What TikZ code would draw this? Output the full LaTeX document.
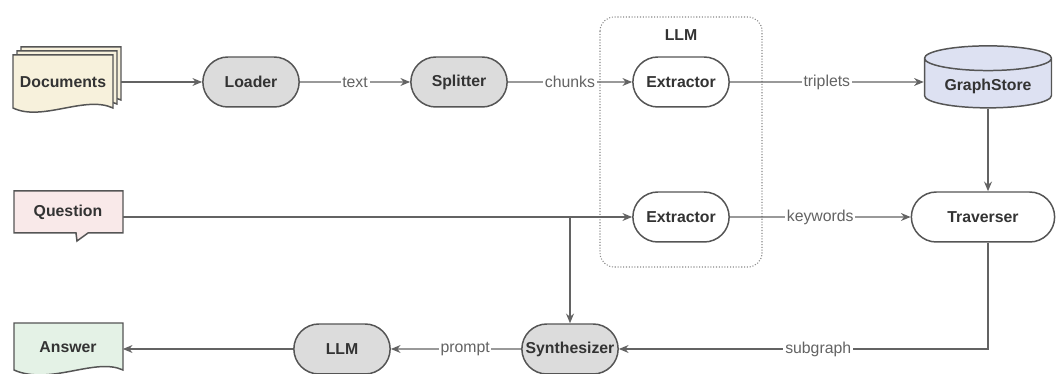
\documentclass[tikz,border=0pt]{standalone}
\usepackage{fontspec}
\setmainfont{Liberation Sans}
\usetikzlibrary{positioning,shapes.misc,shapes.geometric,arrows.meta,calc}

\definecolor{edgec}{HTML}{636363}
\definecolor{borderc}{HTML}{555555}
\definecolor{textc}{HTML}{333333}
\definecolor{grayfill}{HTML}{DCDCDC}
\definecolor{docfill}{HTML}{F7F1DC}
\definecolor{qfill}{HTML}{F9E9E9}
\definecolor{ansfill}{HTML}{E4F2E6}
\definecolor{storefill}{HTML}{DDE1F2}

\tikzset{
  pill/.style={draw=borderc, line width=0.85pt, rounded rectangle, minimum width=2.16cm, minimum height=1cm, font=\fontsize{9}{11}\selectfont\bfseries, text=textc},
  page/.style={draw=borderc, line width=0.85pt},
  doctext/.style={minimum width=2cm, minimum height=1cm, font=\fontsize{9}{11}\selectfont\bfseries, text=textc},
  flow/.style={draw=edgec, line width=0.7pt, -{Stealth[length=5.5pt,width=4.5pt]}},
  lbl/.style={fill=white, inner sep=1pt, font=\fontsize{9}{11}\selectfont, text=edgec}
}

\begin{document}
\begin{tikzpicture}[x=0.02cm,y=-0.02cm]
	\useasboundingbox (0,0) rectangle (1061,374);
	% LLM group
	\draw[borderc!70, densely dotted, line width=0.6pt, rounded corners=8pt] (600,17) rectangle (762,267);
	\node[font=\fontsize{9}{11}\selectfont\bfseries, text=textc] (llmlabel) at (681,35) {LLM};
	% documents, question, answer
	\foreach \d in {8,4,0}
		\draw[page, fill=docfill] (13+\d,55-\d) -- (113+\d,55-\d) -- (113+\d,108-\d) .. controls (85+\d,95-\d) and (42+\d,122-\d) .. (13+\d,108-\d) -- cycle;
	\draw[page, fill=qfill] (14,191) -- (123,191) -- (123,233) -- (88,233) -- (77,241) -- (76,233) -- (14,233) -- cycle;
	\draw[page, fill=ansfill] (14,323) -- (123,323) -- (123,370) .. controls (95,357) and (50,386) .. (14,370) -- cycle;
	\node[doctext] (docs) at (63,82) {Documents};
	\node[doctext, minimum width=2.18cm] (question) at (68,212) {Question};
	\node[doctext, minimum width=2.18cm] (answer) at (68,347) {Answer};
	% steps
	\node[pill, fill=grayfill] (loader) at (251,82) {Loader};
	\node[pill, fill=grayfill] (splitter) at (459,82) {Splitter};
	\node[pill, fill=white] (ext1) at (681,82) {Extractor};
	\node[draw=borderc, line width=0.85pt, cylinder, shape border rotate=90, aspect=0.25, minimum width=2.54cm, minimum height=1.24cm, fill=storefill, font=\fontsize{9}{11}\selectfont\bfseries, text=textc] (store) at (988,86) {GraphStore};
	\node[pill, fill=white] (ext2) at (681,217) {Extractor};
	\node[pill, fill=white, minimum width=3.1cm] (trav) at (983,217) {Traverser};
	\node[pill, fill=grayfill] (synth) at (570,349) {Synthesizer};
	\node[pill, fill=grayfill] (llm) at (342,349) {LLM};
	% connectors
	\draw[flow] ([xshift=0.16cm]docs.east |- loader) -- (loader);
	\draw[flow] (loader) -- node[lbl] {text} (splitter);
	\draw[flow] (splitter) -- node[lbl] {chunks} (ext1);
	\draw[flow] (ext1) -- node[lbl] {triplets} (ext1 -| store.west);
	\draw[flow] (store) -- (store |- trav.north);
	\draw[flow] (question.east |- ext2) -- (ext2);
	\draw[flow] (synth.north |- ext2) -- (synth.north);
	\draw[flow] (ext2) -- node[lbl] {keywords} (trav);
	\draw[flow] (trav.south -| store) |- node[lbl, pos=0.73] {subgraph} (synth);
	\draw[flow] (synth) -- node[lbl, pos=0.43] {prompt} (llm);
	\draw[flow] (llm) -- (llm -| answer.east);
\end{tikzpicture}
\end{document}
